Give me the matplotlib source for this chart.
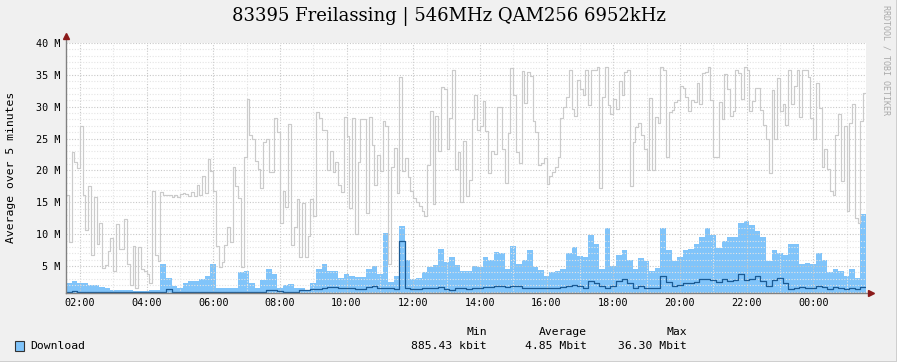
import numpy as np
import matplotlib
matplotlib.use("Agg")
import matplotlib.pyplot as plt
from matplotlib.patches import Rectangle
from matplotlib.lines import Line2D

# ---- data (values in Mbit/s) ----
title = "83395 Freilassing | 546MHz QAM256 6952kHz"
start_hour = 1 + 35 / 60.0          # graph starts at 01:35, spans 24 h
tick_hours = [2, 4, 6, 8, 10, 12, 14, 16, 18, 20, 22, 24]
tick_labels = ["02:00", "04:00", "06:00", "08:00", "10:00", "12:00",
               "14:00", "16:00", "18:00", "20:00", "22:00", "00:00"]
y_ticks = [5, 10, 15, 20, 25, 30, 35, 40]

# max per 5 minutes (grey line)
max_5min = [
    16.2, 8.7, 22.9, 21.3, 20.4, 27.0, 16.2, 10.7, 17.6, 6.8,
    15.9, 8.5, 11.7, 4.7, 5.2, 7.4, 9.4, 4.3, 11.6, 7.7,
    7.7, 12.4, 5.4, 2.0, 8.1, 1.6, 8.0, 4.5, 4.2, 3.7,
    2.4, 16.8, 6.8, 5.8, 16.6, 16.2, 16.2, 16.2, 15.9, 16.2,
    15.9, 16.3, 16.5, 16.3, 16.0, 16.6, 16.0, 17.7,
    16.2, 19.2, 16.5, 21.8, 19.9, 16.8, 8.1, 4.9, 5.7, 8.3,
    11.1, 8.7, 20.5, 17.6, 15.7, 4.9, 22.1, 31.2, 25.5, 25.0,
    21.5, 20.3, 17.3, 24.4, 24.9, 19.8, 19.8, 28.2, 26.1, 11.7,
    16.8, 14.3, 27.3, 8.3, 11.1, 15.6, 6.5, 14.9, 6.5, 9.7,
    15.5, 12.9, 29.2, 28.2, 26.3, 26.3, 20.0, 23.0,
    19.7, 21.4, 17.7, 16.6, 28.4, 25.4, 14.1, 28.2, 10.1, 21.3,
    28.0, 28.1, 13.3, 28.4, 24.0, 17.7, 22.4, 19.9, 27.8, 27.0,
    5.3, 20.5, 23.6, 16.4, 34.7, 19.9, 21.9, 19.0, 16.7, 15.7,
    15.0, 14.5, 13.6, 12.9, 20.8, 29.3, 14.7, 28.5, 23.1, 33.1,
    32.8, 23.4, 28.2, 35.7, 20.2, 22.9, 15.0, 24.7,
    16.0, 18.5, 28.1, 31.8, 26.4, 26.9, 30.9, 26.2, 19.6, 23.1,
    22.6, 29.9, 29.9, 23.3, 18.0, 25.8, 36.1, 31.8, 22.9, 21.2,
    35.6, 30.6, 35.5, 34.9, 27.7, 26.1, 20.8, 21.2, 22.0, 17.9,
    19.2, 19.8, 20.6, 22.1, 28.3, 29.9, 31.5, 35.7, 29.6, 28.5,
    34.2, 32.8, 31.9, 35.7, 30.3, 35.7, 35.8, 36.2,
    17.3, 31.6, 36.3, 30.3, 28.8, 31.2, 29.7, 34.0, 31.9, 35.5,
    35.8, 17.6, 24.4, 26.8, 27.4, 25.5, 23.3, 20.0, 31.3, 20.0,
    28.4, 27.4, 36.2, 35.8, 22.1, 29.2, 29.5, 30.7, 31.0, 33.3,
    32.9, 31.6, 29.4, 31.1, 30.7, 33.8, 30.4, 35.3, 35.4, 36.2,
    31.0, 22.1, 22.1, 30.7, 28.0, 35.1, 32.8, 28.5, 29.4,
    35.7, 35.3, 31.2, 36.2, 35.8, 29.3, 30.9, 32.9, 32.9, 29.5,
    27.1, 24.9, 19.6, 32.7, 24.9, 34.5, 29.4, 30.4, 27.2, 35.7,
    30.4, 33.2, 35.8, 28.4, 35.8, 35.8, 34.7, 28.2, 24.9, 33.7,
    29.8, 20.5, 23.3, 20.3, 16.7, 16.1, 25.6, 28.8, 18.4, 26.9,
    13.6, 27.5, 30.4, 12.5, 11.8, 27.8, 32.1,
]

# average per 10 minutes (blue area)
avg_10min = [
    2.4, 2.6, 2.3, 2.4, 2.0, 2.1, 1.7, 1.6, 1.3, 1.2, 1.3, 1.2,
    1.1, 1.1, 1.1, 1.2, 1.3, 5.4, 3.1, 1.9, 1.6, 2.4, 2.6, 2.7,
    3.0, 3.5, 5.4, 1.6, 1.5, 1.6, 1.6, 4.0, 4.2, 2.4, 1.6, 2.8,
    4.5, 3.8, 1.5, 2.0, 2.2, 1.6, 1.5, 1.3, 2.3, 4.5, 5.4, 4.3,
    4.2, 3.2, 3.8, 3.5, 3.3, 3.3, 4.5, 5.0, 3.7, 10.2, 2.5, 3.4,
    11.3, 6.0, 2.9, 3.1, 4.0, 4.9, 5.2, 7.6, 5.6, 6.5, 5.2, 4.3,
    4.3, 5.0, 4.8, 6.5, 6.0, 7.2, 7.0, 4.6, 8.2, 5.3, 6.0, 7.5,
    4.9, 4.4, 3.5, 4.1, 4.3, 4.5, 7.0, 8.0, 6.6, 6.4, 9.8, 8.5,
    4.5, 11.0, 5.0, 6.8, 7.5, 6.0, 4.5, 6.2, 5.8, 4.3, 4.7, 11.0,
    7.5, 5.8, 6.5, 7.5, 7.7, 8.5, 9.5, 11.0, 9.8, 7.8, 9.0, 9.5,
    9.5, 11.8, 12.0, 11.5, 10.5, 9.5, 5.8, 7.5, 7.0, 6.7, 8.5, 8.5,
    5.3, 5.5, 5.3, 7.0, 5.9, 4.0, 4.6, 4.2, 3.4, 4.6, 3.2, 13.1,
]

# min per 10 minutes (dark blue line)
min_10min = [
    0.9, 1.1, 0.9, 0.9, 0.9, 0.9, 0.9, 0.9, 0.9, 0.9, 0.9, 0.9,
    0.9, 0.9, 0.9, 0.9, 0.9, 0.9, 1.4, 0.9, 0.9, 0.9, 0.9, 0.9,
    0.9, 0.9, 0.9, 0.9, 0.9, 0.9, 0.9, 0.9, 0.9, 0.9, 0.9, 0.9,
    1.2, 1.2, 1.1, 1.0, 0.9, 0.9, 1.2, 1.2, 1.4, 1.4, 1.5, 1.7,
    1.7, 1.5, 1.5, 1.5, 1.4, 1.4, 1.7, 1.9, 1.6, 1.5, 1.5, 1.4,
    8.9, 1.5, 1.4, 1.4, 1.5, 1.6, 1.5, 1.7, 1.4, 1.2, 1.5, 1.6,
    1.4, 1.5, 1.6, 1.7, 1.7, 1.9, 1.8, 1.7, 1.9, 1.8, 1.6, 1.5,
    1.5, 1.5, 1.5, 1.5, 1.6, 1.7, 1.9, 2.0, 1.8, 1.6, 2.7, 2.3,
    1.8, 1.5, 1.8, 2.7, 3.0, 2.3, 1.5, 1.8, 1.6, 1.5, 1.5, 3.5,
    2.5, 1.9, 2.1, 2.3, 2.4, 2.5, 2.9, 3.0, 2.8, 2.5, 2.9, 2.6,
    2.8, 3.8, 2.8, 3.0, 3.4, 2.6, 1.9, 2.8, 3.1, 2.3, 1.4, 1.6,
    1.7, 1.5, 1.5, 1.8, 1.7, 1.4, 1.7, 1.6, 1.4, 1.5, 1.4, 1.7,
]

legend_name = "Download"
stat_heads = ["Min", "Average", "Max"]
stat_values = ["885.43 kbit", "4.85 Mbit", "36.30 Mbit"]

# ---- plotting ----
W, H = 897, 362
mono = "DejaVu Sans Mono"
c_area = "#80c4fa"
c_min = "#1a5a94"
c_max = "#cbcbcb"
c_axis = "#808080"
c_arrow = "#8b1a1a"

fig = plt.figure(figsize=(W / 100, H / 100), dpi=100, facecolor="#f0f0f0")
ax = fig.add_axes([66 / W, (H - 292.7) / H, 800 / W, 249.7 / H])
ax.set_facecolor("white")

t5 = np.arange(len(max_5min) + 1) / 12.0
t10 = np.arange(len(avg_10min) + 1) / 6.0

ax.fill_between(t10, 0, avg_10min + [avg_10min[-1]], step="post",
                color=c_area, lw=0, zorder=1)
ax.step(t5, max_5min + [max_5min[-1]], where="post", color=c_max, lw=0.85, zorder=3)
ax.step(t10, min_10min + [min_10min[-1]], where="post", color=c_min, lw=0.9, zorder=4)

ax.set_xlim(0, 24)
ax.set_ylim(0.82, 40)

xt = [h - start_hour for h in tick_hours]
ax.set_xticks(xt)
ax.set_xticklabels(tick_labels, family=mono, fontsize=7.3)
ax.set_xticks([x + 1 for x in xt if x + 1 < 24], minor=True)
ax.set_yticks(y_ticks)
ax.set_yticklabels(["%d M" % v for v in y_ticks], family=mono, fontsize=7.3)
ax.set_yticks([v for v in range(1, 40) if v % 5], minor=True)
ax.tick_params(which="both", length=0)
ax.tick_params(axis="x", pad=4)
ax.tick_params(axis="y", pad=4)

ax.set_axisbelow(False)
ax.grid(which="major", color="#c8c8c8", lw=0.8, linestyle=(0, (1, 1.5)))
ax.grid(which="minor", color="#e4e4e4", lw=0.8, linestyle=(0, (1, 1.5)))

for s in ax.spines.values():
    s.set_visible(False)
ax.plot([0, 0], [0, 1.025], color=c_axis, lw=1, transform=ax.transAxes,
        clip_on=False, zorder=5)
ax.plot([0, 1.006], [0, 0], color=c_axis, lw=1, transform=ax.transAxes,
        clip_on=False, zorder=5)
ax.plot([0], [1.03], marker="^", ms=4, color=c_arrow, transform=ax.transAxes,
        clip_on=False, zorder=6)
ax.plot([1.006], [0], marker=">", ms=4, color=c_arrow, transform=ax.transAxes,
        clip_on=False, zorder=6)

fig.text(0.5, 1 - 17 / H, title, ha="center", va="center",
         family="DejaVu Serif", fontsize=13)
fig.text(11 / W, 1 - 167 / H, "Average over 5 minutes", rotation=90,
         ha="center", va="center", family=mono, fontsize=8.2)
fig.text(886 / W, 1 - 60 / H, "RRDTOOL / TOBI OETIKER", rotation=270,
         ha="center", va="center", family=mono, fontsize=6, color="#aaaaaa")

# legend
fig.patches.append(Rectangle((15 / W, 1 - 351 / H), 9 / W, 10 / H,
                             facecolor=c_area, edgecolor="#333333", lw=0.8,
                             transform=fig.transFigure))
fig.text(30 / W, 1 - 346 / H, legend_name, ha="left", va="center",
         family=mono, fontsize=8.2)
for xr, head, val in zip([487, 587, 687], stat_heads, stat_values):
    fig.text(xr / W, 1 - 332 / H, head, ha="right", va="center",
             family=mono, fontsize=8.2)
    fig.text(xr / W, 1 - 346 / H, val, ha="right", va="center",
             family=mono, fontsize=8.2)

# frame shadow
fig.add_artist(Line2D([0, 1], [0.5 / H, 0.5 / H], color="#cfcfcf", lw=1.4,
                      transform=fig.transFigure))
fig.add_artist(Line2D([1 - 0.5 / W, 1 - 0.5 / W], [0, 1], color="#cfcfcf", lw=1.4,
                      transform=fig.transFigure))

fig.savefig("out.png", dpi=100, facecolor=fig.get_facecolor())
